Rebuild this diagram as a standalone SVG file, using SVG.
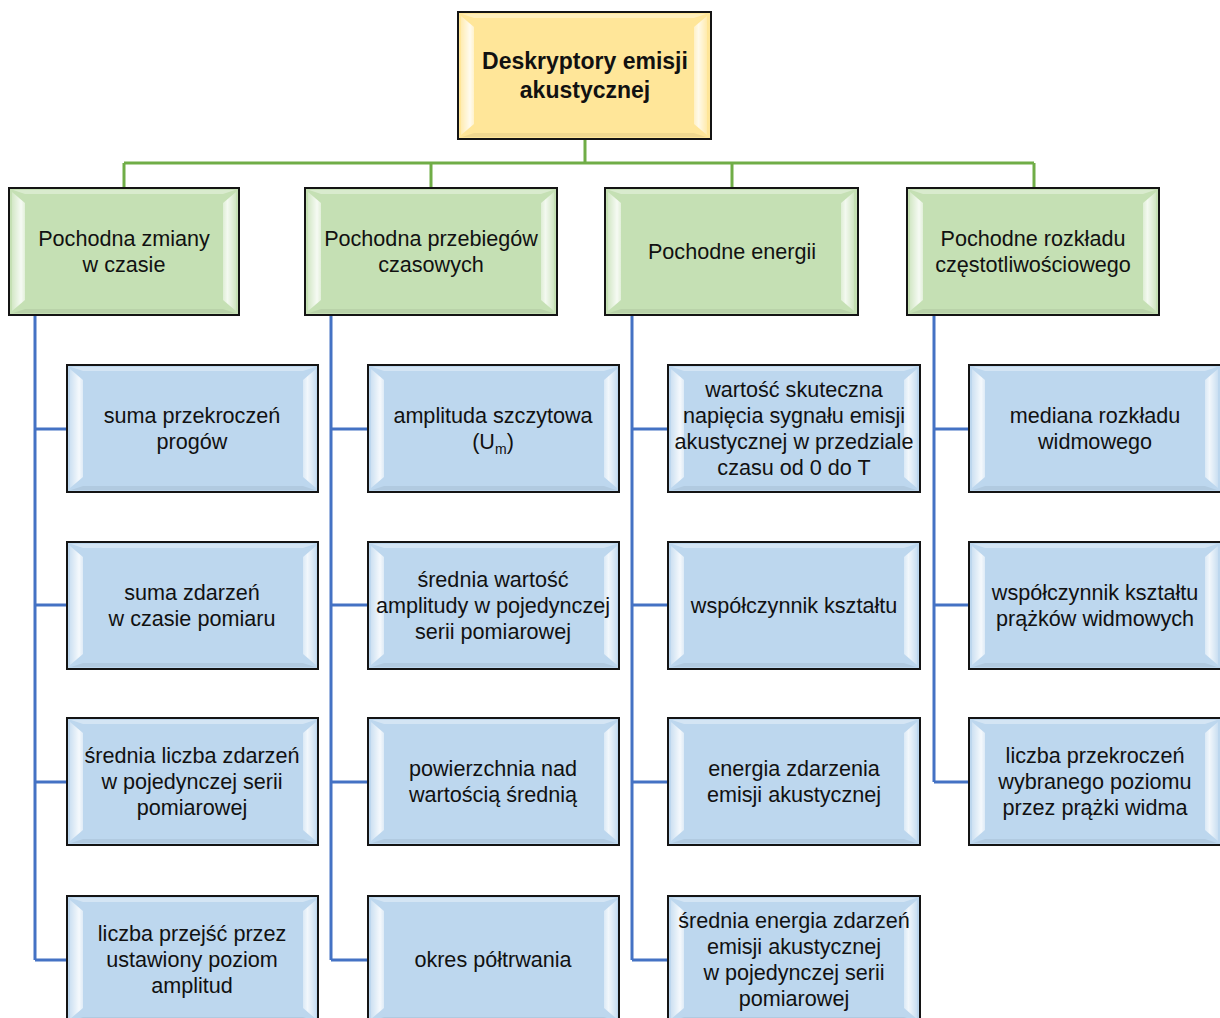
<svg xmlns="http://www.w3.org/2000/svg" xmlns:xlink="http://www.w3.org/1999/xlink" width="1220" height="1018" viewBox="0 0 1220 1018">
<style>
.box{stroke:#141414;stroke-width:2}
.top{fill:#FFE699}
.green{fill:#C5E0B4}
.blue{fill:#BDD7EE}
.t{font-family:"Liberation Sans",Arial,sans-serif;font-size:21.6px;fill:#111;text-anchor:middle}
.tb{font-family:"Liberation Sans",Arial,sans-serif;font-size:23px;font-weight:bold;fill:#111;text-anchor:middle}
.gl{fill:none;stroke:#70AD47;stroke-width:3}
.bl{fill:none;stroke:#4472C4;stroke-width:3}
</style>
<defs>
<linearGradient id="gL" x1="0" y1="0" x2="1" y2="0">
<stop offset="0" stop-color="#fff" stop-opacity="0.25"/>
<stop offset="0.7" stop-color="#fff" stop-opacity="0.85"/>
<stop offset="1" stop-color="#fff" stop-opacity="0.5"/>
</linearGradient>
<linearGradient id="gR" x1="0" y1="0" x2="1" y2="0">
<stop offset="0" stop-color="#fff" stop-opacity="0.45"/>
<stop offset="0.35" stop-color="#fff" stop-opacity="0.8"/>
<stop offset="1" stop-color="#fff" stop-opacity="0.2"/>
</linearGradient>
<g id="bev252">
<polygon points="3,4 16,15 16,112 3,123" fill="url(#gL)"/>
<polygon points="249,4 236,15 236,112 249,123" fill="url(#gR)"/>
<polygon points="4,2 248,2 236,6 16,6" fill="#fff" opacity="0.35"/>
<polygon points="4,125 248,125 236,121 16,121" fill="#000" opacity="0.06"/>
</g>
<g id="bev230">
<polygon points="3,4 16,15 16,112 3,123" fill="url(#gL)"/>
<polygon points="227,4 214,15 214,112 227,123" fill="url(#gR)"/>
<polygon points="4,2 226,2 214,6 16,6" fill="#fff" opacity="0.35"/>
<polygon points="4,125 226,125 214,121 16,121" fill="#000" opacity="0.06"/>
</g>
</defs>

<g id="connectors">
<path class="gl" d="M585 139V163M124 163H1034M124 163V188M431 163V188M732 163V188M1034 163V188"/>
<path class="bl" d="M35 315V960M35 429H67M35 605H67M35 782H67M35 960H67"/>
<path class="bl" d="M331 315V960M331 429H368M331 605H368M331 782H368M331 960H368"/>
<path class="bl" d="M632 315V960M632 429H668M632 605H668M632 782H668M632 960H668"/>
<path class="bl" d="M934 315V782M934 429H969M934 605H969M934 782H969"/>
</g>

<g id="root">
<rect class="box top" x="458" y="12" width="253" height="127"/>
<use xlink:href="#bev252" x="458" y="12"/>
<text class="tb" x="585" y="69">Deskryptory emisji</text>
<text class="tb" x="585" y="98">akustycznej</text>
</g>

<g id="g1">
<rect class="box green" x="9" y="188" width="230" height="127"/>
<use xlink:href="#bev230" x="9" y="188"/>
<text class="t" x="124" y="246">Pochodna zmiany</text>
<text class="t" x="124" y="272">w czasie</text>
</g>
<g id="g2">
<rect class="box green" x="305" y="188" width="252" height="127"/>
<use xlink:href="#bev252" x="305" y="188"/>
<text class="t" x="431" y="246">Pochodna przebiegów</text>
<text class="t" x="431" y="272">czasowych</text>
</g>
<g id="g3">
<rect class="box green" x="605" y="188" width="253" height="127"/>
<use xlink:href="#bev252" x="605" y="188"/>
<text class="t" x="732" y="259">Pochodne energii</text>
</g>
<g id="g4">
<rect class="box green" x="907" y="188" width="252" height="127"/>
<use xlink:href="#bev252" x="907" y="188"/>
<text class="t" x="1033" y="246">Pochodne rozkładu</text>
<text class="t" x="1033" y="272">częstotliwościowego</text>
</g>

<g id="b11">
<rect class="box blue" x="67" y="365" width="251" height="127"/>
<use xlink:href="#bev252" x="67" y="365"/>
<text class="t" x="192" y="423">suma przekroczeń</text>
<text class="t" x="192" y="449">progów</text>
</g>
<g id="b12">
<rect class="box blue" x="67" y="542" width="251" height="127"/>
<use xlink:href="#bev252" x="67" y="542"/>
<text class="t" x="192" y="600">suma zdarzeń</text>
<text class="t" x="192" y="626">w czasie pomiaru</text>
</g>
<g id="b13">
<rect class="box blue" x="67" y="718" width="251" height="127"/>
<use xlink:href="#bev252" x="67" y="718"/>
<text class="t" x="192" y="763">średnia liczba zdarzeń</text>
<text class="t" x="192" y="789">w pojedynczej serii</text>
<text class="t" x="192" y="815">pomiarowej</text>
</g>
<g id="b14">
<rect class="box blue" x="67" y="896" width="251" height="127"/>
<use xlink:href="#bev252" x="67" y="896"/>
<text class="t" x="192" y="941">liczba przejść przez</text>
<text class="t" x="192" y="967">ustawiony poziom</text>
<text class="t" x="192" y="993">amplitud</text>
</g>

<g id="b21">
<rect class="box blue" x="368" y="365" width="251" height="127"/>
<use xlink:href="#bev252" x="368" y="365"/>
<text class="t" x="493" y="423">amplituda szczytowa</text>
<text class="t" x="493" y="449">(U<tspan font-size="14" dy="5">m</tspan><tspan dy="-5">)</tspan></text>
</g>
<g id="b22">
<rect class="box blue" x="368" y="542" width="251" height="127"/>
<use xlink:href="#bev252" x="368" y="542"/>
<text class="t" x="493" y="587">średnia wartość</text>
<text class="t" x="493" y="613">amplitudy w pojedynczej</text>
<text class="t" x="493" y="639">serii pomiarowej</text>
</g>
<g id="b23">
<rect class="box blue" x="368" y="718" width="251" height="127"/>
<use xlink:href="#bev252" x="368" y="718"/>
<text class="t" x="493" y="776">powierzchnia nad</text>
<text class="t" x="493" y="802">wartością średnią</text>
</g>
<g id="b24">
<rect class="box blue" x="368" y="896" width="251" height="127"/>
<use xlink:href="#bev252" x="368" y="896"/>
<text class="t" x="493" y="967">okres półtrwania</text>
</g>

<g id="b31">
<rect class="box blue" x="668" y="365" width="252" height="127"/>
<use xlink:href="#bev252" x="668" y="365"/>
<text class="t" x="794" y="397">wartość skuteczna</text>
<text class="t" x="794" y="423">napięcia sygnału emisji</text>
<text class="t" x="794" y="449">akustycznej w przedziale</text>
<text class="t" x="794" y="475">czasu od 0 do T</text>
</g>
<g id="b32">
<rect class="box blue" x="668" y="542" width="252" height="127"/>
<use xlink:href="#bev252" x="668" y="542"/>
<text class="t" x="794" y="613">współczynnik kształtu</text>
</g>
<g id="b33">
<rect class="box blue" x="668" y="718" width="252" height="127"/>
<use xlink:href="#bev252" x="668" y="718"/>
<text class="t" x="794" y="776">energia zdarzenia</text>
<text class="t" x="794" y="802">emisji akustycznej</text>
</g>
<g id="b34">
<rect class="box blue" x="668" y="896" width="252" height="127"/>
<use xlink:href="#bev252" x="668" y="896"/>
<text class="t" x="794" y="928">średnia energia zdarzeń</text>
<text class="t" x="794" y="954">emisji akustycznej</text>
<text class="t" x="794" y="980">w pojedynczej serii</text>
<text class="t" x="794" y="1006">pomiarowej</text>
</g>

<g id="b41">
<rect class="box blue" x="969" y="365" width="252" height="127"/>
<use xlink:href="#bev252" x="969" y="365"/>
<text class="t" x="1095" y="423">mediana rozkładu</text>
<text class="t" x="1095" y="449">widmowego</text>
</g>
<g id="b42">
<rect class="box blue" x="969" y="542" width="252" height="127"/>
<use xlink:href="#bev252" x="969" y="542"/>
<text class="t" x="1095" y="600">współczynnik kształtu</text>
<text class="t" x="1095" y="626">prążków widmowych</text>
</g>
<g id="b43">
<rect class="box blue" x="969" y="718" width="252" height="127"/>
<use xlink:href="#bev252" x="969" y="718"/>
<text class="t" x="1095" y="763">liczba przekroczeń</text>
<text class="t" x="1095" y="789">wybranego poziomu</text>
<text class="t" x="1095" y="815">przez prążki widma</text>
</g>
</svg>
